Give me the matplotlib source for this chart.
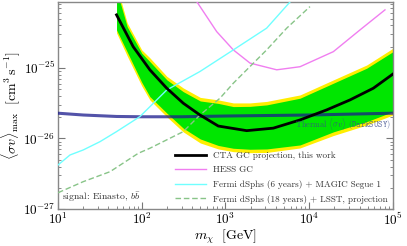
import numpy as np
import matplotlib
matplotlib.use("Agg")
import matplotlib.pyplot as plt
from matplotlib.ticker import LogLocator, NullFormatter

plt.rcParams['font.family'] = 'serif'
plt.rcParams['font.serif'] = ['cmr10', 'DejaVu Serif']
plt.rcParams['mathtext.fontset'] = 'cm'
plt.rcParams['axes.formatter.use_mathtext'] = True

# CTA median projection
cta_mass = [50, 79, 125, 199, 313, 496, 820, 1790, 3720, 7760, 16150, 30700, 58200, 1e5]
cta_median = [5.65e-25, 2.0e-25, 9.4e-26, 5.15e-26, 3.16e-26, 2.15e-26, 1.50e-26,
              1.29e-26, 1.40e-26, 1.83e-26, 2.54e-26, 3.52e-26, 5.15e-26, 8.2e-26]

# containment bands
band_mass = [50, 67, 100, 125, 200, 313, 500, 820, 1240, 1960, 3100, 7760, 19400, 48500, 1e5]
green_up = [1.28e-24, 3.85e-25, 1.62e-25, 1.23e-25, 6.76e-26, 4.61e-26, 3.40e-26, 3.14e-26,
            2.83e-26, 2.85e-26, 2.99e-26, 3.72e-26, 6.07e-26, 9.9e-26, 1.70e-25]
green_lo = [3.46e-25, 1.69e-25, 6.27e-26, 3.92e-26, 2.28e-26, 1.40e-26, 9.84e-27, 7.96e-27,
            7.26e-27, 7.03e-27, 7.10e-27, 8.09e-27, 1.24e-26, 1.73e-26, 2.40e-26]
yellow_up = [1.5e-24, 4.35e-25, 1.80e-25, 1.39e-25, 7.57e-26, 5.20e-26, 3.82e-26, 3.52e-26,
             3.19e-26, 3.19e-26, 3.35e-26, 4.14e-26, 6.76e-26, 1.10e-25, 1.90e-25]
yellow_lo = [3.14e-25, 1.48e-25, 5.56e-26, 3.52e-26, 2.02e-26, 1.24e-26, 8.63e-27, 7.10e-27,
             6.50e-27, 6.29e-27, 6.33e-27, 7.33e-27, 1.10e-26, 1.55e-26, 2.15e-26]

# HESS GC
hess_mass = [400, 457, 785, 1240, 1963, 4090, 7760, 19400, 40400, 80200]
hess_val = [1.1e-24, 8.6e-25, 3.27e-25, 1.8e-25, 1.17e-25, 9.4e-26, 1.04e-25, 1.70e-25, 3.46e-25, 6.65e-25]

# Fermi dSphs (6 yr) + MAGIC
fm_mass = [10, 13.9, 20, 31.7, 50, 95, 199, 496, 1240, 3100, 5890, 7000]
fm_val = [4.2e-27, 5.83e-27, 6.87e-27, 9.0e-27, 1.25e-26, 2.04e-26, 4.87e-26, 8.9e-26,
          1.8e-25, 3.66e-25, 8.6e-25, 1.1e-24]

# Fermi dSphs (18 yr) + LSST
fl_mass = [10, 20, 41.8, 91, 125, 313, 496, 859, 1240, 3100, 5380, 10200]
fl_val = [1.70e-27, 2.44e-27, 3.38e-27, 6.17e-27, 7.26e-27, 1.25e-26, 2.15e-26, 3.72e-26,
          6.07e-26, 1.8e-25, 3.66e-25, 7.4e-25]

# thermal relic
th_mass = [10, 20, 50, 100, 300, 1000, 1e4, 1e5]
th_val = [2.28e-26, 2.15e-26, 2.05e-26, 2.03e-26, 2.03e-26, 2.08e-26, 2.15e-26, 2.28e-26]

fig = plt.figure(figsize=(4.07, 2.46), dpi=100)
ax = fig.add_axes([0.1425, 0.1504, 0.8231, 0.8415])

ax.fill_between(band_mass, yellow_lo, yellow_up, color='#ffee00', lw=0, zorder=1)
ax.fill_between(band_mass, green_lo, green_up, color='#00e600', lw=0, zorder=2)
ax.plot(th_mass, th_val, color='#1a1a8c', lw=2.2, alpha=0.75, zorder=3)
ax.plot(cta_mass, cta_median, color='black', lw=2, zorder=5,
        label='CTA GC projection, this work')
ax.plot(hess_mass, hess_val, color='#f07ef0', lw=1, zorder=4, label='HESS GC')
ax.plot(fm_mass, fm_val, color='#70ffff', lw=1, zorder=4,
        label='Fermi dSphs (6 years) + MAGIC Segue 1')
ax.plot(fl_mass, fl_val, color='#88c488', lw=1, ls=(0, (4, 2)), zorder=4,
        label='Fermi dSphs (18 years) + LSST, projection')

ax.text(0.995, 0.448, r'Thermal $\langle\sigma v\rangle$ ($\mathtt{DarkSUSY}$)',
        transform=ax.transAxes, fontsize=6, color='#3a4a8a', alpha=0.8,
        ha='right', va='top', zorder=6)
ax.text(0.012, 0.022, r'signal: Einasto, $b\bar{b}$', transform=ax.transAxes,
        fontsize=7, ha='left', va='bottom', color='#333333')

ax.set_xscale('log')
ax.set_yscale('log')
ax.set_xlim(10, 1e5)
ax.set_ylim(1e-27, 8.6e-25)
ax.set_xlabel(r'$m_\chi\ \ [\mathrm{GeV}]$', fontsize=10, labelpad=0)
ax.set_ylabel(r'$\overline{\langle\sigma v\rangle}_{\rm max}\ \ [\mathrm{cm}^3\,\mathrm{s}^{-1}]$',
              fontsize=10, labelpad=1)

ax.xaxis.set_major_locator(LogLocator(base=10, numticks=10))
ax.xaxis.set_minor_locator(LogLocator(base=10, subs=np.arange(2, 10), numticks=20))
ax.yaxis.set_major_locator(LogLocator(base=10, numticks=10))
ax.yaxis.set_minor_locator(LogLocator(base=10, subs=np.arange(2, 10), numticks=20))
ax.xaxis.set_minor_formatter(NullFormatter())
ax.yaxis.set_minor_formatter(NullFormatter())
ax.tick_params(which='both', direction='in', right=True, top=False,
               color='#777777', labelsize=9.5)
ax.tick_params(which='major', length=5, width=0.8)
ax.tick_params(which='minor', length=2.5, width=0.6)
ax.tick_params(axis='x', pad=2)
ax.tick_params(axis='y', pad=2)
for s in ax.spines.values():
    s.set_color('#888888')
    s.set_linewidth(1)

leg = ax.legend(loc='lower right', bbox_to_anchor=(1.0, 0.0), frameon=False,
                fontsize=6.6, handlelength=3.4, handletextpad=0.75,
                labelspacing=0.62, borderaxespad=0.2)
for t in leg.get_texts():
    t.set_color('#333333')

fig.savefig('out.png', dpi=100)
